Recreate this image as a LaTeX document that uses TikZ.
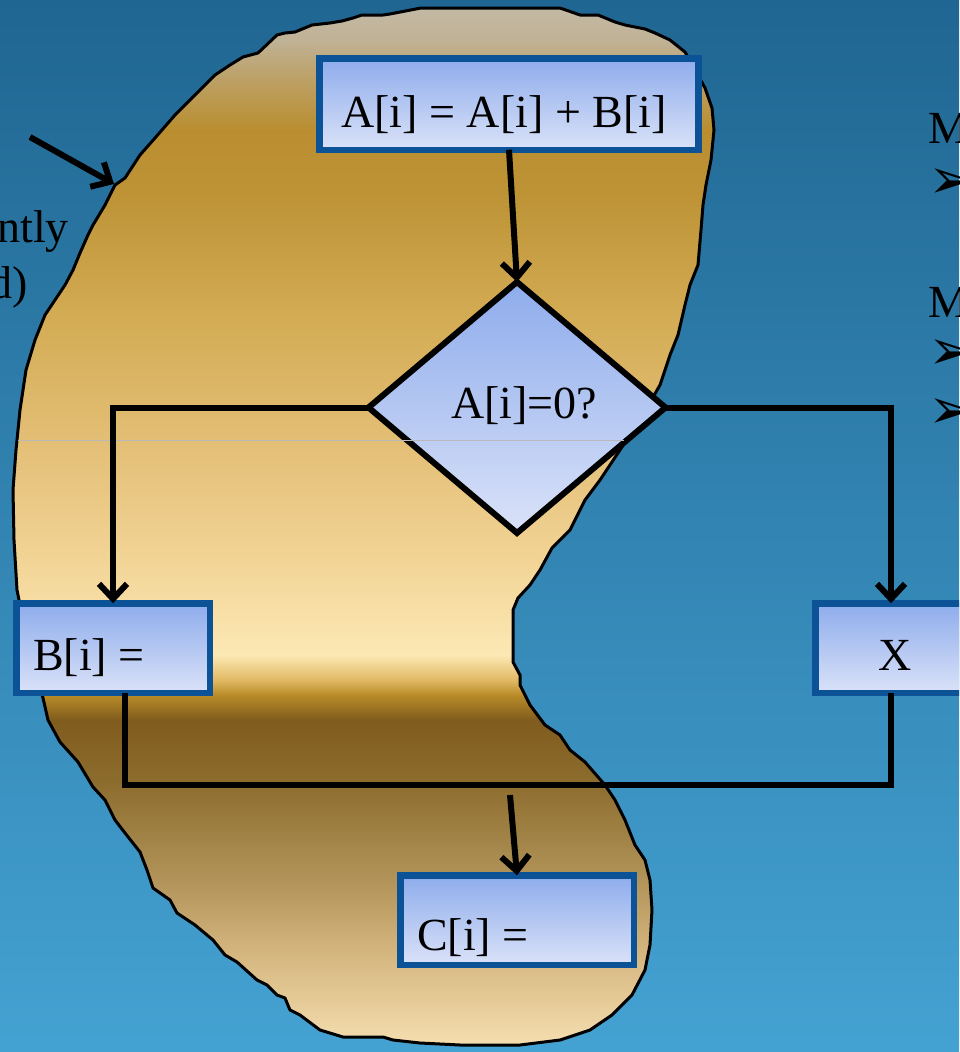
\documentclass[tikz,border=0pt]{standalone}
\usepackage{fontspec}
\setmainfont{Liberation Serif}
\newfontfamily\symfont{DejaVu Sans}
\usetikzlibrary{arrows.meta,shapes.geometric}
\definecolor{bgtop}{RGB}{32,102,146}
\definecolor{bgbot}{RGB}{68,162,210}
\definecolor{boxblue}{RGB}{12,82,150}
\definecolor{boxtop}{RGB}{142,172,236}
\definecolor{boxbot}{RGB}{218,226,248}
\definecolor{g0}{RGB}{196,187,168}
\definecolor{g1}{RGB}{192,178,150}
\definecolor{g2}{RGB}{188,160,100}
\definecolor{g3}{RGB}{186,142,48}
\definecolor{g4}{RGB}{190,148,55}
\definecolor{g5}{RGB}{212,172,85}
\definecolor{g6}{RGB}{228,192,120}
\definecolor{g7}{RGB}{242,212,150}
\definecolor{g8}{RGB}{252,232,180}
\definecolor{g9}{RGB}{225,185,100}
\definecolor{g10}{RGB}{185,140,40}
\definecolor{g11}{RGB}{128,92,30}
\definecolor{g12}{RGB}{140,108,45}
\definecolor{g13}{RGB}{178,148,90}
\definecolor{g14}{RGB}{215,185,130}
\definecolor{g15}{RGB}{248,225,180}
\tikzset{
  box/.style={draw=boxblue, line width=6.5pt, top color=boxtop, bottom color=boxbot, inner sep=0pt, outer sep=0pt},
  txt/.style={inner sep=0pt, font=\fontsize{46}{50}\selectfont},
  sym/.style={inner sep=0pt, font=\symfont\fontsize{56}{60}\selectfont},
  conn/.style={line width=6pt, draw=black},
  arr/.style={conn, -{Straight Barb[length=15pt,width=28pt]}},
  band/.style={draw=none}
}
\begin{document}
\begin{tikzpicture}[x=1pt,y=-1pt]
\path[use as bounding box] (0,0) rectangle (959,1052);
\clip (0,0) rectangle (959,1052);
\shade[top color=bgtop, bottom color=bgbot] (0,0) rectangle (959,1052);
% blob
\def\blob{(230,65) -- (243,57) -- (258,53) -- (277,35) -- (285,33) -- (295,32) -- (312,25) -- (330,23) -- (342,21) -- (353,18) -- (362,15) -- (383,15) -- (390,14) -- (421,8) -- (560,8) -- (580,15) -- (598,15) -- (615,22) -- (625,25) -- (645,29) -- (655,33) -- (670,40) -- (685,52) -- (705,88) -- (712,108) -- (714,130) -- (711,160) -- (706,185) -- (703,205) -- (701,230) -- (698,265) -- (690,285) -- (685,305) -- (678,335) -- (670,355) -- (660,385) -- (640,420) -- (620,450) -- (600,480) -- (585,500) -- (570,530) -- (552,548) -- (540,570) -- (530,585) -- (518,598) -- (513,610) -- (513,662) -- (520,675) -- (520,685) -- (530,705) -- (545,725) -- (560,735) -- (570,750) -- (585,762) -- (605,785) -- (615,800) -- (625,820) -- (635,845) -- (645,860) -- (650,880) -- (652,910) -- (650,945) -- (645,970) -- (632,995) -- (612,1015) -- (590,1030) -- (560,1040) -- (520,1045) -- (460,1045) -- (420,1043) -- (393,1040) -- (383,1037) -- (343,1037) -- (320,1030) -- (300,1015) -- (290,1010) -- (285,998) -- (277,995) -- (267,985) -- (257,980) -- (237,962) -- (225,955) -- (213,940) -- (195,925) -- (177,913) -- (170,900) -- (153,888) -- (147,870) -- (140,852) -- (125,833) -- (115,820) -- (105,800) -- (93,787) -- (78,762) -- (60,742) -- (48,720) -- (43,698) -- (35,670) -- (25,630) -- (17,590) -- (14,540) -- (13,490) -- (16,450) -- (20,410) -- (26,370) -- (35,340) -- (45,315) -- (55,300) -- (65,285) -- (73,270) -- (80,253) -- (88,235) -- (93,225) -- (105,205) -- (115,185) -- (125,178) -- (140,155) -- (155,138) -- (175,115) -- (195,95) -- (215,75) -- cycle}
\begin{scope}
\clip \blob;
\shade[band, top color=g0, bottom color=g1] (0,0) rectangle (959,40);
\shade[band, top color=g1, bottom color=g2] (0,40) rectangle (959,80);
\shade[band, top color=g2, bottom color=g3] (0,80) rectangle (959,130);
\shade[band, top color=g3, bottom color=g4] (0,130) rectangle (959,200);
\shade[band, top color=g4, bottom color=g5] (0,200) rectangle (959,320);
\shade[band, top color=g5, bottom color=g6] (0,320) rectangle (959,450);
\shade[band, top color=g6, bottom color=g7] (0,450) rectangle (959,560);
\shade[band, top color=g7, bottom color=g8] (0,560) rectangle (959,655);
\shade[band, top color=g8, bottom color=g9] (0,655) rectangle (959,680);
\shade[band, top color=g9, bottom color=g10] (0,680) rectangle (959,695);
\shade[band, top color=g10, bottom color=g11] (0,695) rectangle (959,720);
\shade[band, top color=g11, bottom color=g12] (0,720) rectangle (959,780);
\shade[band, top color=g12, bottom color=g13] (0,780) rectangle (959,880);
\shade[band, top color=g13, bottom color=g14] (0,880) rectangle (959,960);
\shade[band, top color=g14, bottom color=g15] (0,960) rectangle (959,1052);
\end{scope}
\draw[line width=3pt, line join=round] \blob;
% boxes
\node[box, minimum width=379pt, minimum height=91.5pt] (top) at (509,104) {};
\node[box, diamond, minimum width=297pt, minimum height=251pt, line width=6pt, draw=black] (dia) at (517,407.5) {};
\node[box, minimum width=193.5pt, minimum height=89.5pt] (bbox) at (113,648) {};
\node[box, minimum width=151pt, minimum height=89.5pt] (xbox) at (891,648) {};
\node[box, minimum width=233.5pt, minimum height=89.5pt] (cbox) at (517,920) {};
% texts
\node[txt, anchor=base] (ttop) at (504,127) {A[i] = A[i] + B[i]};
\node[txt, anchor=base] (tdia) at (524,418) {A[i]=0?};
\node[txt, anchor=base west] (tb) at (33,670) {B[i] =};
\node[txt, anchor=base] (tx) at (895,670) {X};
\node[txt, anchor=base west] (tc) at (417,950) {C[i] =};
\node[txt, anchor=base east] (l1) at (69,242) {ntly};
\node[txt, anchor=base east] (l2) at (28,298) {d)};
\node[txt, anchor=base west] (r1) at (928,143) {M};
\node[txt, anchor=base west] (r2) at (928,317) {M};
\node[sym, anchor=west] (s1) at (928,184) {➢};
\node[sym, anchor=west] (s2) at (928,355) {➢};
\node[sym, anchor=west] (s3) at (928,414) {➢};
% thin artifact line
\draw[gray!55!white, line width=0.8pt] (18,440) -- (624,440);
% connectors
\coordinate (la) at (30,137);
\coordinate (lb) at (114,184);
\coordinate (join) at (510,785);
\coordinate (join2) at (510,795);
\draw[arr] (top.south) -- (dia.north);
\draw[arr] (dia.west) -| (bbox.north);
\draw[arr] (dia.east) -| (xbox.north);
\draw[conn] ([xshift=12pt]bbox.south) |- (join) -| (xbox.south);
\draw[arr] (join2) -- (cbox.north);
\draw[arr] (la) -- (lb);
\end{tikzpicture}
\end{document}
